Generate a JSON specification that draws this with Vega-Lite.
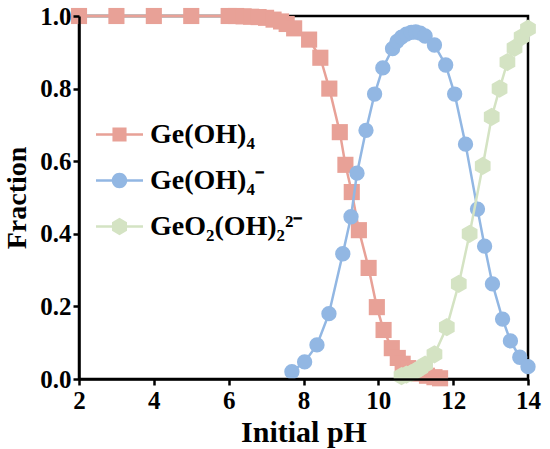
{
  "$schema": "https://vega.github.io/schema/vega-lite/v6.json",
  "width": 449,
  "height": 363,
  "autosize": {"type": "none"},
  "padding": {"left": 79, "top": 16, "right": 22, "bottom": 70},
  "config": {
    "font": "Liberation Serif",
    "view": {"stroke": "black", "strokeWidth": 2.5},
    "axis": {
      "grid": false,
      "labelFlush": false,
      "domainColor": "black",
      "domainWidth": 2.5,
      "labelFont": "Liberation Serif",
      "labelFontWeight": "bold",
      "labelFontSize": 25,
      "labelColor": "black",
      "titleFont": "Liberation Serif",
      "titleFontWeight": "bold",
      "titleFontSize": 30,
      "titleColor": "black"
    },
    "legend": {
      "labelFont": "Liberation Serif",
      "labelFontWeight": "bold",
      "labelFontSize": 28,
      "labelColor": "black"
    }
  },
  "data": {
    "values": [
      {"species": "Ge(OH)₄", "pH": 2, "fraction": 1.0},
      {"species": "Ge(OH)₄", "pH": 3, "fraction": 1.0},
      {"species": "Ge(OH)₄", "pH": 4, "fraction": 1.0},
      {"species": "Ge(OH)₄", "pH": 5, "fraction": 1.0},
      {"species": "Ge(OH)₄", "pH": 6, "fraction": 1.0},
      {"species": "Ge(OH)₄", "pH": 6.2, "fraction": 1.0},
      {"species": "Ge(OH)₄", "pH": 6.4, "fraction": 0.999},
      {"species": "Ge(OH)₄", "pH": 6.6, "fraction": 0.998},
      {"species": "Ge(OH)₄", "pH": 6.8, "fraction": 0.997},
      {"species": "Ge(OH)₄", "pH": 7.0, "fraction": 0.995},
      {"species": "Ge(OH)₄", "pH": 7.2, "fraction": 0.99},
      {"species": "Ge(OH)₄", "pH": 7.4, "fraction": 0.985},
      {"species": "Ge(OH)₄", "pH": 7.55, "fraction": 0.978},
      {"species": "Ge(OH)₄", "pH": 7.75, "fraction": 0.966},
      {"species": "Ge(OH)₄", "pH": 8.15, "fraction": 0.935},
      {"species": "Ge(OH)₄", "pH": 8.45, "fraction": 0.885},
      {"species": "Ge(OH)₄", "pH": 8.69, "fraction": 0.8},
      {"species": "Ge(OH)₄", "pH": 8.97, "fraction": 0.68},
      {"species": "Ge(OH)₄", "pH": 9.12, "fraction": 0.59},
      {"species": "Ge(OH)₄", "pH": 9.29, "fraction": 0.515},
      {"species": "Ge(OH)₄", "pH": 9.48, "fraction": 0.41},
      {"species": "Ge(OH)₄", "pH": 9.74, "fraction": 0.306},
      {"species": "Ge(OH)₄", "pH": 9.96, "fraction": 0.198},
      {"species": "Ge(OH)₄", "pH": 10.14, "fraction": 0.135},
      {"species": "Ge(OH)₄", "pH": 10.36, "fraction": 0.085},
      {"species": "Ge(OH)₄", "pH": 10.52, "fraction": 0.058},
      {"species": "Ge(OH)₄", "pH": 10.65, "fraction": 0.042},
      {"species": "Ge(OH)₄", "pH": 10.8, "fraction": 0.03},
      {"species": "Ge(OH)₄", "pH": 10.95, "fraction": 0.022},
      {"species": "Ge(OH)₄", "pH": 11.1, "fraction": 0.015},
      {"species": "Ge(OH)₄", "pH": 11.3, "fraction": 0.009},
      {"species": "Ge(OH)₄", "pH": 11.5, "fraction": 0.005},
      {"species": "Ge(OH)₄", "pH": 11.65, "fraction": 0.002},
      {"species": "Ge(OH)₄⁻", "pH": 7.69, "fraction": 0.02},
      {"species": "Ge(OH)₄⁻", "pH": 8.03, "fraction": 0.047},
      {"species": "Ge(OH)₄⁻", "pH": 8.36, "fraction": 0.094},
      {"species": "Ge(OH)₄⁻", "pH": 8.68, "fraction": 0.18},
      {"species": "Ge(OH)₄⁻", "pH": 9.05, "fraction": 0.345},
      {"species": "Ge(OH)₄⁻", "pH": 9.27, "fraction": 0.447},
      {"species": "Ge(OH)₄⁻", "pH": 9.43, "fraction": 0.567},
      {"species": "Ge(OH)₄⁻", "pH": 9.67, "fraction": 0.685},
      {"species": "Ge(OH)₄⁻", "pH": 9.9, "fraction": 0.785},
      {"species": "Ge(OH)₄⁻", "pH": 10.12, "fraction": 0.857},
      {"species": "Ge(OH)₄⁻", "pH": 10.38, "fraction": 0.91},
      {"species": "Ge(OH)₄⁻", "pH": 10.5, "fraction": 0.93},
      {"species": "Ge(OH)₄⁻", "pH": 10.62, "fraction": 0.942},
      {"species": "Ge(OH)₄⁻", "pH": 10.75, "fraction": 0.95},
      {"species": "Ge(OH)₄⁻", "pH": 10.88, "fraction": 0.955},
      {"species": "Ge(OH)₄⁻", "pH": 11.0, "fraction": 0.956},
      {"species": "Ge(OH)₄⁻", "pH": 11.12, "fraction": 0.953},
      {"species": "Ge(OH)₄⁻", "pH": 11.25, "fraction": 0.945},
      {"species": "Ge(OH)₄⁻", "pH": 11.5, "fraction": 0.92},
      {"species": "Ge(OH)₄⁻", "pH": 11.8, "fraction": 0.865},
      {"species": "Ge(OH)₄⁻", "pH": 12.04, "fraction": 0.785},
      {"species": "Ge(OH)₄⁻", "pH": 12.33, "fraction": 0.647},
      {"species": "Ge(OH)₄⁻", "pH": 12.65, "fraction": 0.468},
      {"species": "Ge(OH)₄⁻", "pH": 12.84, "fraction": 0.366},
      {"species": "Ge(OH)₄⁻", "pH": 13.05, "fraction": 0.262},
      {"species": "Ge(OH)₄⁻", "pH": 13.32, "fraction": 0.165},
      {"species": "Ge(OH)₄⁻", "pH": 13.53, "fraction": 0.105},
      {"species": "Ge(OH)₄⁻", "pH": 13.78, "fraction": 0.06},
      {"species": "Ge(OH)₄⁻", "pH": 14.0, "fraction": 0.034},
      {"species": "GeO₂(OH)₂²⁻", "pH": 10.62, "fraction": 0.008},
      {"species": "GeO₂(OH)₂²⁻", "pH": 10.75, "fraction": 0.012},
      {"species": "GeO₂(OH)₂²⁻", "pH": 10.88, "fraction": 0.016},
      {"species": "GeO₂(OH)₂²⁻", "pH": 11.0, "fraction": 0.022},
      {"species": "GeO₂(OH)₂²⁻", "pH": 11.12, "fraction": 0.03},
      {"species": "GeO₂(OH)₂²⁻", "pH": 11.25, "fraction": 0.04},
      {"species": "GeO₂(OH)₂²⁻", "pH": 11.5, "fraction": 0.068},
      {"species": "GeO₂(OH)₂²⁻", "pH": 11.83, "fraction": 0.143},
      {"species": "GeO₂(OH)₂²⁻", "pH": 12.15, "fraction": 0.262},
      {"species": "GeO₂(OH)₂²⁻", "pH": 12.44, "fraction": 0.4},
      {"species": "GeO₂(OH)₂²⁻", "pH": 12.79, "fraction": 0.587},
      {"species": "GeO₂(OH)₂²⁻", "pH": 13.03, "fraction": 0.722},
      {"species": "GeO₂(OH)₂²⁻", "pH": 13.24, "fraction": 0.8},
      {"species": "GeO₂(OH)₂²⁻", "pH": 13.45, "fraction": 0.873},
      {"species": "GeO₂(OH)₂²⁻", "pH": 13.64, "fraction": 0.912},
      {"species": "GeO₂(OH)₂²⁻", "pH": 13.83, "fraction": 0.942},
      {"species": "GeO₂(OH)₂²⁻", "pH": 14.0, "fraction": 0.965}
    ]
  },
  "encoding": {
    "x": {
      "field": "pH",
      "type": "quantitative",
      "title": "Initial pH",
      "scale": {"domain": [2, 14], "nice": false},
      "axis": {
        "values": [2, 4, 6, 8, 10, 12, 14],
        "ticks": true,
        "tickSize": 6,
        "tickWidth": 2.5,
        "tickColor": "black",
        "tickOpacity": 1,
        "zindex": 1,
        "labelPadding": 3,
        "titlePadding": 4,
        "encode": {"ticks": {"update": {"y2": {"value": -6}}}}
      }
    },
    "y": {
      "field": "fraction",
      "type": "quantitative",
      "title": "Fraction",
      "scale": {"domain": [0, 1], "nice": false},
      "axis": {
        "values": [0, 0.2, 0.4, 0.6, 0.8, 1.0],
        "format": ".1f",
        "ticks": true,
        "tickSize": 6,
        "tickWidth": 2.5,
        "tickColor": "black",
        "tickOpacity": 1,
        "zindex": 1,
        "labelPadding": 2,
        "titlePadding": 8,
        "titleFontSize": 28,
        "encode": {"ticks": {"update": {"x2": {"value": 6}}}}
      }
    }
  },
  "layer": [
    {
      "transform": [{"filter": "datum.species === 'Ge(OH)₄'"}],
      "mark": {"type": "line", "strokeWidth": 2.5, "color": "#E8A197"}
    },
    {
      "transform": [{"filter": "datum.species === 'Ge(OH)₄'"}],
      "mark": {"type": "point", "shape": "square", "filled": true, "opacity": 1, "size": 260},
      "encoding": {
        "color": {
          "field": "species",
          "type": "nominal",
          "scale": {
            "domain": ["Ge(OH)₄", "Ge(OH)₄⁻", "GeO₂(OH)₂²⁻"],
            "range": ["#E8A197", "#92B7E3", "#D4E3C3"]
          },
          "legend": {
            "title": null,
            "orient": "none",
            "legendX": 16,
            "legendY": 94,
            "symbolSize": 2209,
            "symbolOpacity": 1,
            "labelOffset": 6,
            "labelBaseline": "middle",
            "rowPadding": 7,
            "encode": {
              "symbols": {
                "update": {
                  "size": {"value": 2209},
                  "shape": [
                    {"test": "datum.index === 0", "value": "M-1,-0.05H1V0.05H-1Z M-0.3,-0.3H0.3V0.3H-0.3Z"},
                    {"test": "datum.index === 1", "value": "M-1,-0.05H1V0.05H-1Z M-0.33,0A0.33,0.33 0 1,1 0.33,0A0.33,0.33 0 1,1 -0.33,0Z"},
                    {"value": "M-1,-0.05H1V0.05H-1Z M0,-0.37L0.32,-0.185L0.32,0.185L0,0.37L-0.32,0.185L-0.32,-0.185Z"}
                  ]
                }
              }
            }
          }
        }
      }
    },
    {
      "transform": [{"filter": "datum.species === 'Ge(OH)₄⁻'"}],
      "mark": {"type": "line", "strokeWidth": 2.5, "color": "#92B7E3"}
    },
    {
      "transform": [{"filter": "datum.species === 'Ge(OH)₄⁻'"}],
      "mark": {"type": "point", "shape": "circle", "filled": true, "opacity": 1, "size": 235, "color": "#92B7E3"}
    },
    {
      "transform": [{"filter": "datum.species === 'GeO₂(OH)₂²⁻'"}],
      "mark": {"type": "line", "strokeWidth": 2.5, "color": "#D4E3C3"}
    },
    {
      "transform": [{"filter": "datum.species === 'GeO₂(OH)₂²⁻'"}],
      "mark": {
        "type": "point",
        "shape": "M0,-1L0.866,-0.5L0.866,0.5L0,1L-0.866,0.5L-0.866,-0.5Z",
        "filled": true,
        "opacity": 1,
        "size": 330,
        "color": "#D4E3C3"
      }
    }
  ]
}
